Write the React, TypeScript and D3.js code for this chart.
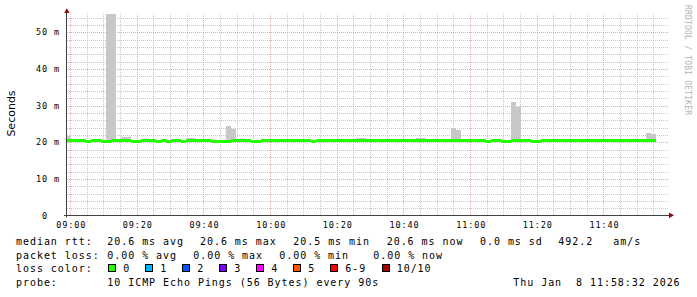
import React from 'react';
import * as d3 from 'd3';

// ---- data (minutes after 09:00, 90 s steps) ----
const binStartMin = -1.5;
const binStepMin = 1.5;

const medianRtt: number[] = [
  20.6, 20.6, 20.6, 20.6, 20.35, 20.6, 20.6, 20.35, 20.35, 20.6,
  20.6, 20.6, 20.6, 20.35, 20.35, 20.6, 20.6, 20.6, 20.35, 20.6,
  20.35, 20.6, 20.6, 20.35, 20.6, 20.6, 20.6, 20.6, 20.6, 20.35,
  20.35, 20.35, 20.35, 20.6, 20.6, 20.6, 20.6, 20.35, 20.35, 20.6,
  20.6, 20.6, 20.6, 20.6, 20.6, 20.6, 20.6, 20.6, 20.6, 20.35,
  20.6, 20.6, 20.6, 20.6, 20.6, 20.6, 20.6, 20.6, 20.6, 20.6,
  20.6, 20.6, 20.6, 20.6, 20.6, 20.6, 20.6, 20.6, 20.6, 20.6,
  20.6, 20.6, 20.6, 20.6, 20.6, 20.6, 20.6, 20.6, 20.6, 20.6,
  20.6, 20.6, 20.6, 20.6, 20.35, 20.6, 20.6, 20.35, 20.35, 20.6,
  20.6, 20.6, 20.6, 20.35, 20.35, 20.6, 20.6, 20.6, 20.6, 20.6,
  20.6, 20.6, 20.6, 20.6, 20.6, 20.6, 20.6, 20.6, 20.6, 20.6,
  20.6, 20.6, 20.6, 20.6, 20.6, 20.6, 20.6, 20.6,
];

// top of the smoke (max ping) per step; null = no visible spread
const smokeMax: (number | null)[] = [
  21.7, null, null, null, null, null, null, null, 60, 60,
  null, 21.4, 21.4, null, null, null, null, null, null, null,
  null, null, null, null, 21.1, 21.1, null, null, null, null,
  null, null, 24.4, 23.7, null, null, null, null, null, null,
  null, null, null, null, null, null, null, null, null, null,
  null, null, null, null, null, null, null, null, 21.2, 21.2,
  null, null, null, null, null, null, null, null, null, null,
  21.2, 21.2, null, null, null, null, null, 23.9, 23.4, null,
  null, null, null, null, null, null, null, null, null, 31.0,
  29.5, null, null, null, null, null, null, null, null, null,
  null, null, null, null, null, null, null, null, null, null,
  null, null, null, null, null, null, 22.6, 22.2,
];

const xTickMin = [0, 20, 40, 60, 80, 100, 120, 140, 160];
const xTickLabels = ['09:00', '09:20', '09:40', '10:00', '10:20', '10:40', '11:00', '11:20', '11:40'];
const yTicks = [0, 10, 20, 30, 40, 50];
const yTickLabels = ['0', '10', '20', '30', '40', '50'];
const yTickUnits = ['', 'm', 'm', 'm', 'm', 'm'];

const lossLabels = ['0', '1', '2', '3', '4', '5', '6-9', '10/10'];
const lossColors = ['#26ff00', '#00b8ff', '#0059ff', '#7e00ff', '#ff00ff', '#ff5500', '#ff0000', '#a10000'];

const legendRtt = ['20.6 ms avg', '20.6 ms max', '20.5 ms min', '20.6 ms now', '0.0 ms sd', '492.2', 'am/s'];
const legendLoss = ['0.00 % avg', '0.00 % max', '0.00 % min', '0.00 % now'];
const probeText = '10 ICMP Echo Pings (56 Bytes) every 90s';
const dateText = 'Thu Jan  8 11:58:32 2026';

const W = 697, H = 297;
const PL = 67, PR = 669, PT = 14, PB = 215.5;

const mono = '"DejaVu Sans Mono", monospace';

export default function App() {
  const x = d3.scaleLinear().domain([-1.2, 179.4]).range([PL, PR]);
  const y = d3.scaleLinear().domain([0, 55]).range([PB, PT]);

  const minorX = d3.range(0, 179, 5);
  const minorY = d3.range(2, 55, 2);
  const majorY = d3.range(10, 55, 10);

  const bins = medianRtt.map((m, i) => ({
    x0: x(binStartMin + binStepMin * i),
    x1: x(binStartMin + binStepMin * (i + 1)),
    m,
    top: smokeMax[i],
  }));

  const rttX = [107.3, 200, 293.3, 386.7, 480, 558.3, 613.3];
  const lossX = [107.3, 193.3, 279.3, 373.3];
  const swX = [108.3, 145.3, 182.3, 219.3, 256.3, 293.3, 330.3, 381.7];

  const lt = { fontFamily: mono, fontSize: 10, letterSpacing: 0.95, fill: '#000' } as any;
  const at = { fontFamily: mono, fontSize: 8.5, letterSpacing: 0.88, fill: '#000' } as any;

  return (
    <svg width={W} height={H} style={{ position: 'absolute', left: 0, top: 0, background: '#fff' }}>
      <defs>
        <clipPath id="plot">
          <rect x={PL} y={PT} width={PR - PL} height={PB - PT} />
        </clipPath>
      </defs>
      <rect x={0} y={0} width={W} height={H} fill="#fff" />
      {/* minor grid */}
      <g stroke="#c8c8c8" strokeDasharray="1,1" strokeWidth={1} shapeRendering="crispEdges">
        {minorX.filter((t) => t % 20 !== 0).map((t) => (
          <line key={'vx' + t} x1={Math.round(x(t)) - 0.5} x2={Math.round(x(t)) - 0.5} y1={PT} y2={PB} />
        ))}
        {minorY.filter((v) => v % 10 !== 0).map((v) => (
          <line key={'hy' + v} x1={PL} x2={PR} y1={Math.round(y(v)) + 0.5} y2={Math.round(y(v)) + 0.5} />
        ))}
      </g>
      {/* major grid */}
      <g stroke="#ec8f8f" strokeOpacity={0.8} strokeDasharray="1,1" strokeWidth={1} shapeRendering="crispEdges">
        {xTickMin.map((t) => (
          <line key={'mx' + t} x1={Math.round(x(t)) - 0.5} x2={Math.round(x(t)) - 0.5} y1={PT} y2={PB} />
        ))}
        {majorY.map((v) => (
          <line key={'my' + v} x1={PL} x2={PR} y1={Math.round(y(v)) + 0.5} y2={Math.round(y(v)) + 0.5} />
        ))}
      </g>
      {/* smoke + median */}
      <g clipPath="url(#plot)">
        {bins.map((b, i) =>
          b.top != null ? (
            <rect key={'s' + i} x={b.x0} y={y(b.top)} width={b.x1 - b.x0} height={y(b.m) - y(b.top)} fill="#c8c8c8" shapeRendering="crispEdges" />
          ) : null
        )}
        {bins.map((b, i) => {
          const top = Math.round(y(b.m) - 0.8);
          return (
            <rect key={'m' + i} x={Math.round(b.x0)} y={top} width={Math.round(b.x1) - Math.round(b.x0)} height={3} fill="#22ff00" shapeRendering="crispEdges" />
          );
        })}
      </g>
      {/* axes */}
      <line x1={66.5} x2={66.5} y1={PB + 2} y2={11} stroke="#404040" strokeWidth={1} />
      <line x1={64} x2={670} y1={215.5} y2={215.5} stroke="#404040" strokeWidth={1} />
      <path d="M66.8,8.3 L64.2,13 L69.6,13 Z" fill="#8b1010" />
      <path d="M674,215.3 L669,212.5 L669,218.2 Z" fill="#8b1010" />
      {/* y labels */}
      {yTicks.map((v, i) => (
        <g key={'yl' + v}>
          <text x={48 - 6 * yTickLabels[i].length} y={y(v) + 3} style={at}>{yTickLabels[i]}</text>
          {yTickUnits[i] && <text x={54} y={y(v) + 3} style={at}>{yTickUnits[i]}</text>}
        </g>
      ))}
      {/* x labels */}
      {xTickMin.map((t, i) => (
        <text key={'xl' + t} x={x(t) - 15 + 0.2} y={227.5} style={at}>{xTickLabels[i]}</text>
      ))}
      {/* y title */}
      <text transform="translate(14.5,113.5) rotate(-90)" textAnchor="middle" style={{ fontFamily: '"DejaVu Sans", sans-serif', fontSize: 11, fill: '#000' }}>Seconds</text>
      {/* watermark */}
      <text transform="translate(684.5,5) rotate(90)" style={{ fontFamily: mono, fontSize: 8, letterSpacing: 0.2, fill: '#b4b4b4' }}>RRDTOOL / TOBI OETIKER</text>
      {/* legend */}
      <text x={16} y={245.3} style={lt}>median rtt:</text>
      {legendRtt.map((s, i) => (
        <text key={'r' + i} x={rttX[i]} y={245.3} style={lt}>{s}</text>
      ))}
      <text x={16} y={258.8} style={lt}>packet loss:</text>
      {legendLoss.map((s, i) => (
        <text key={'l' + i} x={lossX[i]} y={258.8} style={lt}>{s}</text>
      ))}
      <text x={16} y={272.3} style={lt}>loss color:</text>
      {lossLabels.map((s, i) => (
        <g key={'c' + i}>
          <rect x={swX[i] + 0.5} y={264.8} width={7} height={7} fill={lossColors[i]} stroke="#000" strokeWidth={1} shapeRendering="crispEdges" />
          <text x={swX[i] + 15} y={272.3} style={lt}>{s}</text>
        </g>
      ))}
      <text x={16} y={285.8} style={lt}>probe:</text>
      <text x={107.3} y={285.8} style={lt}>{probeText}</text>
      <text x={513.3} y={285.8} style={{ ...lt, whiteSpace: 'pre' }}>{dateText}</text>
    </svg>
  );
}
